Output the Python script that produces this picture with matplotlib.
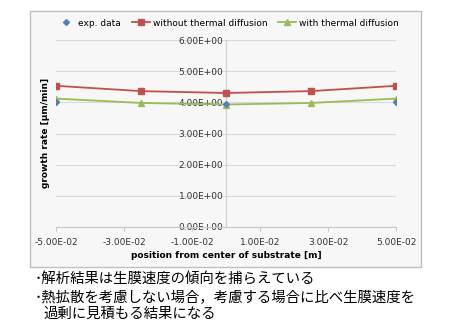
import matplotlib.pyplot as plt
from matplotlib.patches import Rectangle
from matplotlib.ticker import FuncFormatter

# data
pos = [-0.05, -0.025, 0.0, 0.025, 0.05]
exp_pos = [-0.05, 0.0, 0.05]
exp_rate = [4.00, 3.96, 4.00]
rate_without = [4.53, 4.36, 4.30, 4.36, 4.53]
rate_with = [4.12, 3.98, 3.93, 3.98, 4.12]
xticks = [-0.05, -0.03, -0.01, 0.01, 0.03, 0.05]
yticks = [0, 1, 2, 3, 4, 5, 6]
notes = ['･解析結果は生膜速度の傾向を捕らえている',
         '･熱拡散を考慮しない場合，考慮する場合に比べ生膜速度を',
         '過剰に見積もる結果になる']

fig = plt.figure(figsize=(4.51, 3.35), dpi=100)

# chart area background
fig.patches.append(Rectangle((30 / 451, 1 - 267 / 335), 391 / 451, 256 / 335,
                             transform=fig.transFigure, facecolor='#f7f7f7',
                             edgecolor='#bfbfbf', lw=1, zorder=-10))

ax = fig.add_axes([56 / 451, 1 - 227 / 335, 340 / 451, 187 / 335])
ax.set_facecolor('none')

ax.plot(exp_pos, exp_rate, linestyle='none', marker='D', ms=3,
        color='#4f81bd', label='exp. data', zorder=5)
ax.plot(pos, rate_without, marker='s', ms=4, lw=1.3,
        color='#c0504d', label='without thermal diffusion', zorder=4)
ax.plot(pos, rate_with, marker='^', ms=4, lw=1.3,
        color='#9bbb59', label='with thermal diffusion', zorder=4)

ax.set_xlim(-0.05, 0.05)
ax.set_ylim(0, 6)
ax.set_xticks(xticks)
ax.set_yticks(yticks)
fmt = FuncFormatter(lambda v, p: f'{v:.2E}')
ax.xaxis.set_major_formatter(fmt)
ax.yaxis.set_major_formatter(fmt)
ax.grid(axis='y', color='#d9d9d9', lw=0.8)
ax.set_axisbelow(True)

ax.spines['left'].set_position(('data', 0))
ax.spines['left'].set_color('#d0d0d0')
ax.spines['bottom'].set_color('#c8c8c8')
ax.spines['top'].set_visible(False)
ax.spines['right'].set_visible(False)
ax.tick_params(axis='y', length=0, labelsize=6.5, pad=2, colors='#333333')
ax.tick_params(axis='x', length=3, labelsize=6.5, pad=5, color='#c8c8c8',
               labelcolor='#333333')

fig.text(45 / 451, 1 - 133 / 335, 'growth rate [μm/min]', rotation=90,
         ha='center', va='center', fontsize=6.5, fontweight='bold')
fig.text(226 / 451, 1 - 255 / 335, 'position from center of substrate [m]',
         ha='center', va='center', fontsize=6.5, fontweight='bold')

fig.legend(loc='center', bbox_to_anchor=(228 / 451, 1 - 23 / 335), ncol=3,
           frameon=False, fontsize=6.5, handlelength=2, columnspacing=1.2,
           handletextpad=0.3)

for i, line in enumerate(notes):
    x0 = 35 if i < 2 else 43
    fig.text(x0 / 451, 1 - (280 + 17 * i) / 335, line, ha='left', va='center',
             fontsize=10.4, family=['Noto Sans CJK JP', 'DejaVu Sans'])

fig.savefig('out.png', dpi=100)
